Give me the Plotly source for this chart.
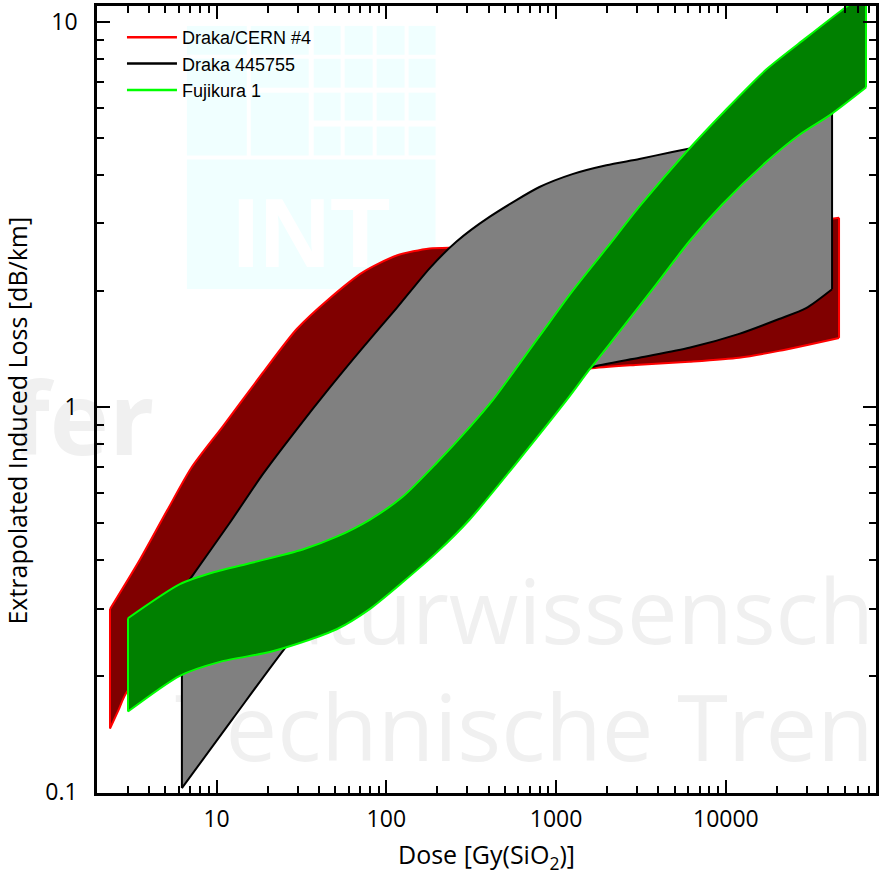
import math
import plotly.graph_objects as go

# ---------------- data (dose in Gy(SiO2), loss in dB/km) ----------------
cern_dose_upper = [2.357, 3.538, 5.10, 7.15, 10.89, 18.73, 29.68, 46.4, 72.5, 115.0, 179.8, 259.2, 913, 3538, 13713, 46400]
cern_loss_upper = [0.299, 0.402, 0.538, 0.699, 0.892, 1.229, 1.596, 1.919, 2.240, 2.477, 2.583, 2.598, 2.630, 2.724, 2.89, 3.105]
cern_dose_lower = [2.357, 2.645, 2.968, 7.98, 15.70, 30.9, 119.7, 464, 1046, 1570, 3090, 6083, 11970, 20580, 46400]
cern_loss_lower = [0.1464, 0.1634, 0.1824, 0.2815, 0.390, 0.5575, 0.871, 1.091, 1.207, 1.259, 1.289, 1.312, 1.344, 1.400, 1.513]

draka_dose_upper = [6.25, 6.96, 11.97, 18.73, 29.68, 46.4, 72.5, 115.0, 179.8, 259.2, 405.2, 797.9, 1247, 1977, 3090, 4832, 5922, 9120, 15700, 27000, 42210]
draka_loss_upper = [0.332, 0.357, 0.501, 0.670, 0.876, 1.124, 1.426, 1.808, 2.294, 2.693, 3.12, 3.73, 4.03, 4.25, 4.41, 4.60, 4.68, 4.85, 5.09, 5.43, 6.00]
draka_dose_lower = [6.25, 12.47, 25.92, 60.8, 119.7, 235.7, 464, 913, 1570, 3090, 6083, 11970, 20580, 29680, 42210]
draka_loss_lower = [0.1025, 0.1553, 0.240, 0.379, 0.541, 0.729, 0.924, 1.138, 1.266, 1.344, 1.426, 1.550, 1.694, 1.808, 2.025]

fuji_dose_upper = [3.008, 6.08, 9.51, 16.35, 32.18, 51.0, 79.8, 124.7, 197.7, 309, 422, 797.9, 1247, 1977, 3090, 5842, 10040, 17270, 29680, 48320, 66880]
fuji_loss_upper = [0.283, 0.347, 0.372, 0.395, 0.427, 0.461, 0.510, 0.585, 0.716, 0.886, 1.041, 1.529, 2.001, 2.583, 3.316, 4.60, 5.93, 7.53, 9.10, 10.75, 11.9]
fuji_dose_lower = [3.008, 6.08, 10.46, 20.58, 32.18, 51.0, 79.8, 124.7, 197.7, 309, 1150, 1570, 2455, 3890, 6083, 9510, 17270, 27000, 41630, 66880]
fuji_loss_lower = [0.162, 0.2006, 0.218, 0.2313, 0.2455, 0.265, 0.299, 0.351, 0.419, 0.510, 1.041, 1.251, 1.606, 2.085, 2.693, 3.36, 4.33, 5.09, 5.76, 6.76]

series_names = ["Draka/CERN #4", "Draka 445755", "Fujikura 1"]
line_colors = ["#ff0000", "#000000", "#00ff00"]
fill_colors = ["#800000", "#808080", "#008000"]

x_tick_values = [10, 100, 1000, 10000]
x_tick_text = ["10", "100", "1000", "10000"]

bands = [
    (cern_dose_upper, cern_loss_upper, cern_dose_lower, cern_loss_lower),
    (draka_dose_upper, draka_loss_upper, draka_dose_lower, draka_loss_lower),
    (fuji_dose_upper, fuji_loss_upper, fuji_dose_lower, fuji_loss_lower),
]

SMOOTH = 0.7
fig = go.Figure()
for (xu, yu, xl, yl), name, lc, fc in zip(bands, series_names, line_colors, fill_colors):
    fig.add_trace(go.Scatter(x=xl, y=yl, mode="lines",
                             line=dict(color=lc, width=2, shape="spline", smoothing=SMOOTH),
                             showlegend=False, hoverinfo="skip"))
    fig.add_trace(go.Scatter(x=xu, y=yu, mode="lines", fill="tonexty", fillcolor=fc,
                             line=dict(color=lc, width=2, shape="spline", smoothing=SMOOTH),
                             showlegend=False, hoverinfo="skip"))
    fig.add_trace(go.Scatter(x=[xu[0], xl[0]], y=[yu[0], yl[0]], mode="lines",
                             line=dict(color=lc, width=2), showlegend=False, hoverinfo="skip"))
    fig.add_trace(go.Scatter(x=[xu[-1], xl[-1]], y=[yu[-1], yl[-1]], mode="lines",
                             line=dict(color=lc, width=2), showlegend=False, hoverinfo="skip"))
for name, lc in zip(series_names, line_colors):
    fig.add_trace(go.Scatter(x=[None], y=[None], mode="lines", name=name,
                             line=dict(color=lc, width=2.5)))

# ---------------- layout ----------------
W, H = 882, 878
L, R, T, B = 97, 877, 3, 793


def px(xp):
    return (xp - L) / (R - L)


def py(yp):
    return (B - yp) / (B - T)


shapes = []
cyan = "#f0ffff"
small_cols = [(314, 341), (345, 373), (377, 405), (409, 436)]
rows = [(23, 52), (56, 85), (90, 118), (124, 153)]
for c0, c1 in small_cols:
    for r0, r1 in rows:
        shapes.append(dict(type="rect", xref="paper", yref="paper", x0=px(c0), x1=px(c1),
                           y0=py(r1), y1=py(r0), line=dict(width=0), fillcolor=cyan, layer="below"))
for c0, c1 in [(187, 247), (251, 309)]:
    for r0, r1 in [(23, 52), (56, 85), (90, 153)]:
        shapes.append(dict(type="rect", xref="paper", yref="paper", x0=px(c0), x1=px(c1),
                           y0=py(r1), y1=py(r0), line=dict(width=0), fillcolor=cyan, layer="below"))
shapes.append(dict(type="rect", xref="paper", yref="paper", x0=px(187), x1=px(436),
                   y0=py(287), y1=py(157), line=dict(width=0), fillcolor=cyan, layer="below",
                   label=dict(text="<b>INT</b>", textposition="middle center", padding=0,
                              font=dict(family="Liberation Sans", size=98, color="white"))))

wm = "#f0f0f0"
shapes.append(dict(type="rect", xref="paper", yref="paper", x0=px(8), x1=px(160),
                   y0=py(460), y1=py(384), line=dict(width=0), fillcolor="rgba(0,0,0,0)", layer="below",
                   label=dict(text="<b>fer</b>", textposition="middle left", padding=0,
                              font=dict(family="Open Sans", size=100, color=wm))))
shapes.append(dict(type="rect", xref="paper", yref="paper", x0=px(204), x1=px(877),
                   y0=py(654), y1=py(574), line=dict(width=0), fillcolor="rgba(0,0,0,0)", layer="below",
                   label=dict(text="Naturwissensch", textposition="middle left", padding=0,
                              font=dict(family="Open Sans", size=90, color=wm))))
shapes.append(dict(type="rect", xref="paper", yref="paper", x0=px(172), x1=px(877),
                   y0=py(771), y1=py(691), line=dict(width=0), fillcolor="rgba(0,0,0,0)", layer="below",
                   label=dict(text="Technische Tren", textposition="middle left", padding=0,
                              font=dict(family="Open Sans", size=92, color=wm))))

axis_common = dict(
    type="log", showline=True, linewidth=2.5, linecolor="black", mirror="ticks",
    ticks="inside", ticklen=13, tickwidth=2, tickcolor="black",
    exponentformat="none", showgrid=False, zeroline=False,
    minor=dict(ticks="inside", ticklen=7, tickwidth=2, tickcolor="black", dtick="D1", showgrid=False),
    tickfont=dict(family="Open Sans", size=23, color="black"),
)

fig.update_layout(
    width=W, height=H,
    margin=dict(l=L, r=W - R, t=T, b=H - B),
    paper_bgcolor="white", plot_bgcolor="rgba(0,0,0,0)",
    font=dict(family="Open Sans", size=23, color="black"),
    shapes=shapes,
    legend=dict(x=px(122), y=py(16), xanchor="left", yanchor="top", bgcolor="rgba(0,0,0,0)",
                font=dict(family="Liberation Sans", size=18, color="black"), itemwidth=50,
                tracegroupgap=0, traceorder="normal"),
    xaxis=dict(axis_common, range=[math.log10(1.976), math.log10(76600)],
               tickmode="array", tickvals=x_tick_values, ticktext=x_tick_text,
               ticklabelstandoff=4,
               title=dict(text="Dose [Gy(SiO<sub>2</sub>)]", font=dict(family="Open Sans", size=25), standoff=14)),
    yaxis=dict(axis_common, range=[-1.002, 1.0418], dtick=1,
               ticklabelstandoff=12),
    annotations=[dict(text="Extrapolated Induced Loss [dB/km]", textangle=-90, xref="paper", yref="paper",
                      x=px(17), y=py(419), xanchor="center", yanchor="middle", showarrow=False,
                      font=dict(family="Open Sans", size=25, color="black"))],
)

fig.write_html("out.html")
